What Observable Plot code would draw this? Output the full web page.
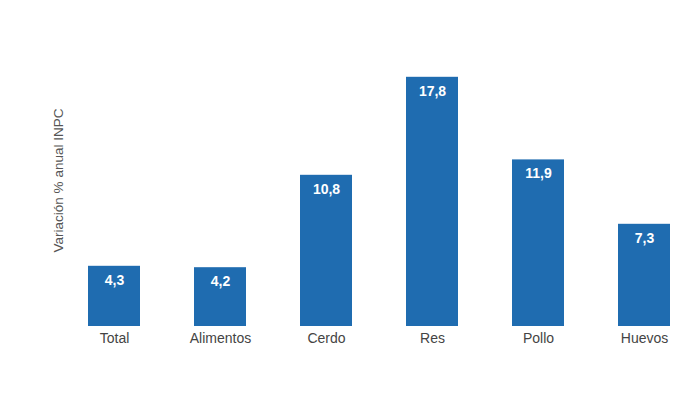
<!DOCTYPE html>
<html>
<head>
<meta charset="utf-8">
<script src="https://cdn.jsdelivr.net/npm/d3@7"></script>
<script src="https://cdn.jsdelivr.net/npm/@observablehq/plot@0.6"></script>
<style>
  html, body { margin: 0; padding: 0; background: #fff; }
  #chart { width: 700px; height: 400px; }
  svg { font-family: "Liberation Sans", Arial, sans-serif; }
</style>
</head>
<body>
<div id="chart"></div>
<script>
const categories = ["Total", "Alimentos", "Cerdo", "Res", "Pollo", "Huevos"];
const values = [4.3, 4.2, 10.8, 17.8, 11.9, 7.3];
const yLabel = "Variación % anual INPC";

const data = categories.map((c, i) => ({ category: c, value: values[i] }));
const fmt = v => v.toFixed(1).replace(".", ",");

const chart = Plot.plot({
  width: 700,
  height: 400,
  marginLeft: 61,
  marginRight: 3,
  marginTop: 46,
  marginBottom: 74,
  style: { fontFamily: "'Liberation Sans', Arial, sans-serif", background: "transparent" },
  x: { domain: categories, paddingInner: 0.51, paddingOuter: 0.255, label: null },
  y: { domain: [0, 20], axis: null },
  marks: [
    Plot.barY(data, { x: "category", y: "value", fill: "#1f6cb0" }),
    Plot.text(data, {
      x: "category", y: "value", text: d => fmt(d.value),
      dy: 14, fill: "white", fontWeight: "bold", fontSize: 14
    }),
    Plot.axisX({ tickSize: 0, tickPadding: 7, fontSize: 14, color: "#444", label: null }),
    Plot.text([yLabel], {
      frameAnchor: "left", dx: -3, dy: -6, rotate: -90, fontSize: 13.5, fill: "#555",
      textAnchor: "middle"
    })
  ]
});
document.getElementById("chart").appendChild(chart);
</script>
</body>
</html>
